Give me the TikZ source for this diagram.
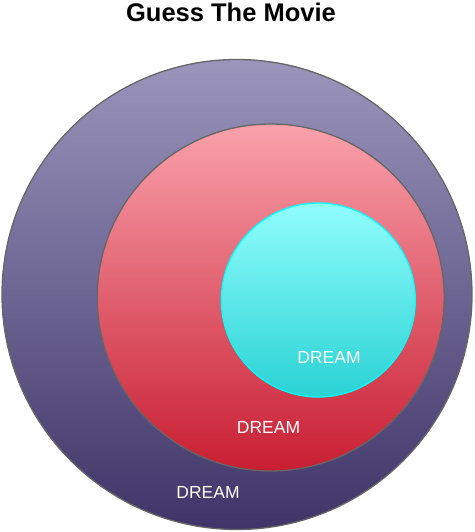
\documentclass[tikz,border=0pt]{standalone}
\usepackage{fontspec}
\setmainfont{Liberation Sans}
\usetikzlibrary{positioning}
\definecolor{dreamtop}{RGB}{155,149,188}
\definecolor{dreambot}{RGB}{62,52,104}
\definecolor{redtop}{RGB}{249,161,171}
\definecolor{redbot}{RGB}{200,30,50}
\definecolor{cyantop}{RGB}{145,253,253}
\definecolor{cyanbot}{RGB}{42,210,212}
\definecolor{cyanrim}{RGB}{0,255,255}
\definecolor{rimgray}{RGB}{102,102,102}

\begin{document}
\begin{tikzpicture}[
  x=1pt, y=-1pt,
  level/.style = {circle, draw=rimgray, line width=1.3pt, inner sep=0pt},
  dream label/.style = {text=white, font=\fontsize{17.5}{20}\selectfont}
]
  \useasboundingbox (0,0) rectangle (474,532);

  \node[font=\fontsize{25.5}{30}\selectfont\bfseries] (title) at (231,12) {Guess The Movie};

  % three dream levels
  \node[level, minimum size=470pt, top color=dreamtop, bottom color=dreambot] (outer) at (237,294.5) {};
  \node[level, minimum size=347pt, top color=redtop, bottom color=redbot] (middle) at (270.7,297.5) {};
  \node[level, draw=cyanrim, minimum size=194pt, top color=cyantop, bottom color=cyanbot] (inner) at (318.3,300) {};

  \node[dream label] (innerlabel) at (329,357) {DREAM};
  \node[dream label] (middlelabel) at (268.5,427) {DREAM};
  \node[dream label] (outerlabel) at (208,492) {DREAM};
\end{tikzpicture}
\end{document}
